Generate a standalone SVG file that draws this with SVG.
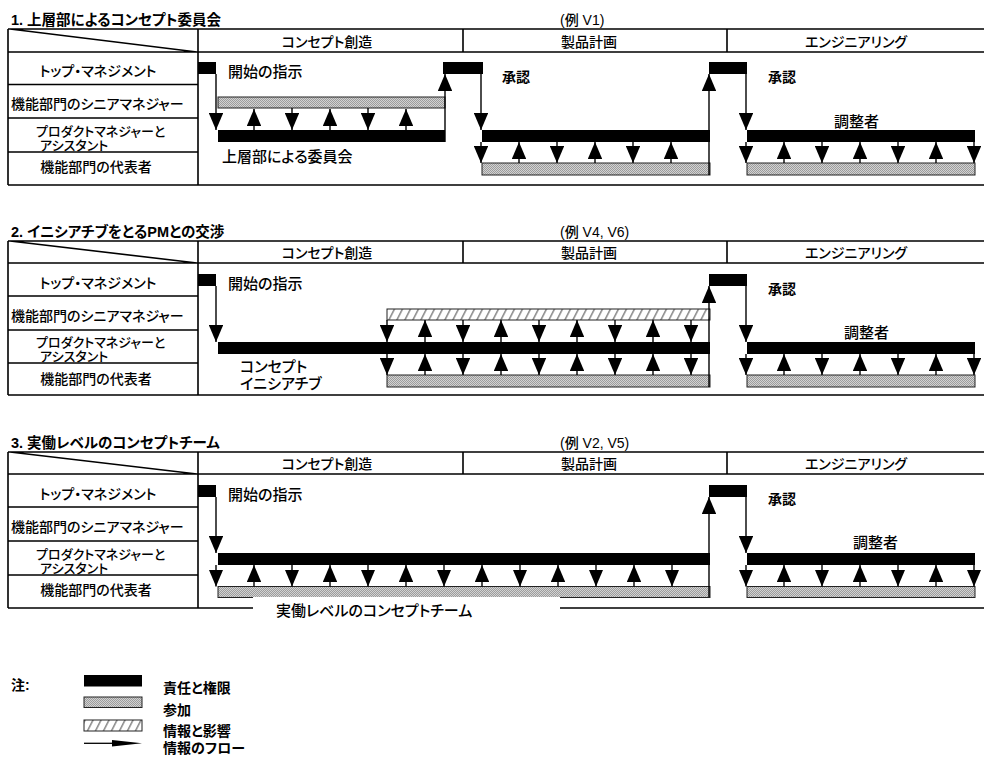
<svg xmlns="http://www.w3.org/2000/svg" width="984" height="758" viewBox="0 0 984 758">
<style>
.ln{stroke:#000;stroke-width:1.6;fill:none}
.fl{stroke:#000;stroke-width:1.4;fill:none;marker-end:url(#ah)}
.blk{fill:#000}
.gry{fill:url(#dots);stroke:#222;stroke-width:1}
.hch{fill:url(#hatch);stroke:#222;stroke-width:1}
text{font-family:"Liberation Sans","Noto Sans CJK JP",sans-serif;font-feature-settings:"palt" 1;fill:#000;font-weight:500}
.ttl{font-size:14.5px;font-weight:bold}
.ex{font-size:14px}
.hd{font-size:14px;text-anchor:middle}
.rl{font-size:14px}
.rc{font-size:14px;text-anchor:middle}
.rs{font-size:13px}
.lb{font-size:15px}
.ap{font-size:14px;font-weight:bold}
.lg{font-size:14px;font-weight:bold}
</style>
<defs>
<pattern id="dots" patternUnits="userSpaceOnUse" width="2" height="2"><rect width="2" height="2" fill="#d2d2d2"/><rect width="1" height="1" fill="#9c9c9c"/><rect x="1" y="1" width="1" height="1" fill="#9c9c9c"/></pattern>
<pattern id="hatch" patternUnits="userSpaceOnUse" width="8" height="10" patternTransform="skewX(-27)"><rect width="8" height="10" fill="#fff"/><rect x="3" width="1.7" height="10" fill="#888"/></pattern>
<marker id="ah" markerUnits="userSpaceOnUse" markerWidth="17" markerHeight="14.5" viewBox="0 0 17 14.5" refX="17" refY="7.25" orient="auto"><path d="M0,0 L17,7.25 L0,14.5 z" fill="#000"/></marker>
</defs>
<rect width="984" height="758" fill="#fff"/>

<!-- ===== Panel 1 ===== -->
<g id="panel1">
<g id="p1-title"><text class="ttl" x="11" y="25">1. 上層部によるコンセプト委員会</text></g>
<g id="p1-example"><text class="ex" x="560" y="25">(例 V1)</text></g>
<g id="p1-table">
<path class="ln" d="M8,29 H984 M8,52 H984 M8,185 H984 M8,29 V185 M198,29 V185 M463,29 V52 M727,29 V52 M8,84.5 H198 M8,118 H198 M8,152 H198 M10,29 L197,52"/>
<text class="hd" x="327" y="47">コンセプト創造</text>
<text class="hd" x="589" y="47">製品計画</text>
<text class="hd" x="856" y="47">エンジニアリング</text>
</g>
<g id="p1-row-top"><text class="rc" x="98" y="76">トップ・マネジメント</text></g>
<g id="p1-row-senior"><text class="rl" x="11" y="109">機能部門のシニアマネジャー</text></g>
<g id="p1-row-pm"><text class="rs"><tspan x="36" y="135.5">プロダクトマネジャーと</tspan><tspan x="40" y="150">アシスタント</tspan></text></g>
<g id="p1-row-rep"><text class="rc" x="96" y="172">機能部門の代表者</text></g>
<g id="p1-start"><rect class="blk" x="198" y="62" width="18" height="12"/><text class="lb" x="228" y="77">開始の指示</text></g>
<g id="p1-senior-part"><rect class="gry" x="218" y="97" width="227" height="11"/></g>
<g id="p1-committee"><rect class="blk" x="218" y="130" width="227" height="12"/><text class="lb" x="222" y="162">上層部による委員会</text></g>
<g id="p1-approve1"><rect class="blk" x="443" y="62" width="40" height="12"/><text class="ap" x="502" y="82">承認</text></g>
<g id="p1-plan-bar"><rect class="blk" x="482" y="130" width="228" height="12"/></g>
<g id="p1-plan-part"><rect class="gry" x="482" y="163" width="228" height="12"/></g>
<g id="p1-approve2"><rect class="blk" x="709" y="62" width="38" height="12"/><text class="ap" x="768" y="82">承認</text></g>
<g id="p1-coord"><rect class="blk" x="747" y="130" width="228" height="12"/><text class="lb" x="834" y="127">調整者</text></g>
<g id="p1-coord-part"><rect class="gry" x="747" y="163" width="228" height="12"/></g>
</g>

<!-- ===== Panel 2 ===== -->
<g id="panel2" transform="translate(0,212)">
<g id="p2-title"><text class="ttl" x="11" y="25">2. イニシアチブをとるPMとの交渉</text></g>
<g id="p2-example"><text class="ex" x="560" y="25">(例 V4, V6)</text></g>
<g id="p2-table">
<path class="ln" d="M8,29 H984 M8,51 H984 M8,183 H984 M8,29 V183 M198,29 V183 M463,29 V51 M727,29 V51 M8,84 H198 M8,118 H198 M8,151 H198 M10,29 L197,51"/>
<text class="hd" x="327" y="46">コンセプト創造</text>
<text class="hd" x="589" y="46">製品計画</text>
<text class="hd" x="856" y="46">エンジニアリング</text>
</g>
<g id="p2-row-top"><text class="rc" x="98" y="76">トップ・マネジメント</text></g>
<g id="p2-row-senior"><text class="rl" x="11" y="109">機能部門のシニアマネジャー</text></g>
<g id="p2-row-pm"><text class="rs"><tspan x="36" y="134.5">プロダクトマネジャーと</tspan><tspan x="40" y="149">アシスタント</tspan></text></g>
<g id="p2-row-rep"><text class="rc" x="96" y="172">機能部門の代表者</text></g>
<g id="p2-start"><rect class="blk" x="198" y="62" width="18" height="12"/><text class="lb" x="228" y="77">開始の指示</text></g>
<g id="p2-senior-info"><rect class="hch" x="387" y="97" width="323" height="11"/></g>
<g id="p2-initiative"><rect class="blk" x="218" y="130" width="492" height="12"/><text class="lb"><tspan x="240" y="160">コンセプト</tspan><tspan x="240" y="177">イニシアチブ</tspan></text></g>
<g id="p2-rep-part"><rect class="gry" x="387" y="163" width="323" height="12"/></g>
<g id="p2-approve"><rect class="blk" x="709" y="62" width="38" height="12"/><text class="ap" x="768" y="82">承認</text></g>
<g id="p2-coord"><rect class="blk" x="747" y="130" width="228" height="12"/><text class="lb" x="844" y="126">調整者</text></g>
<g id="p2-coord-part"><rect class="gry" x="747" y="163" width="228" height="12"/></g>
</g>

<!-- ===== Panel 3 ===== -->
<g id="panel3" transform="translate(0,423)">
<g id="p3-title"><text class="ttl" x="11" y="25">3. 実働レベルのコンセプトチーム</text></g>
<g id="p3-example"><text class="ex" x="560" y="25">(例 V2, V5)</text></g>
<g id="p3-table">
<path class="ln" d="M8,29 H984 M8,51 H984 M8,185 H984 M8,29 V185 M198,29 V185 M463,29 V51 M727,29 V51 M8,84 H198 M8,118 H198 M8,152 H198 M10,29 L197,51"/>
<text class="hd" x="327" y="46">コンセプト創造</text>
<text class="hd" x="589" y="46">製品計画</text>
<text class="hd" x="856" y="46">エンジニアリング</text>
</g>
<g id="p3-row-top"><text class="rc" x="98" y="76">トップ・マネジメント</text></g>
<g id="p3-row-senior"><text class="rl" x="11" y="109">機能部門のシニアマネジャー</text></g>
<g id="p3-row-pm"><text class="rs"><tspan x="36" y="135.5">プロダクトマネジャーと</tspan><tspan x="40" y="150">アシスタント</tspan></text></g>
<g id="p3-row-rep"><text class="rc" x="96" y="172">機能部門の代表者</text></g>
<g id="p3-start"><rect class="blk" x="198" y="62" width="18" height="12"/><text class="lb" x="228" y="77">開始の指示</text></g>
<g id="p3-pm-bar"><rect class="blk" x="218" y="130" width="492" height="12"/></g>
<g id="p3-team"><rect class="gry" x="218" y="163.5" width="492" height="11"/><rect x="253" y="174" width="307" height="22" fill="#fff"/><text class="lb" x="276" y="193">実働レベルのコンセプトチーム</text></g>
<g id="p3-approve"><rect class="blk" x="709" y="62" width="38" height="12"/><text class="ap" x="768" y="81">承認</text></g>
<g id="p3-coord"><rect class="blk" x="747" y="130" width="228" height="12"/><text class="lb" x="853" y="125">調整者</text></g>
<g id="p3-coord-part"><rect class="gry" x="747" y="163.5" width="228" height="11"/></g>
</g>

<!-- ===== Connectors ===== -->
<g id="connectors">
<g id="c1">
<line class="fl" x1="216" y1="74" x2="216" y2="130"/>
<line class="fl" x1="254" y1="130" x2="254" y2="109"/>
<line class="fl" x1="292" y1="108" x2="292" y2="130"/>
<line class="fl" x1="330" y1="130" x2="330" y2="109"/>
<line class="fl" x1="368" y1="108" x2="368" y2="130"/>
<line class="fl" x1="406" y1="130" x2="406" y2="109"/>
<line class="fl" x1="445" y1="142" x2="445" y2="74"/>
<line class="fl" x1="481" y1="74" x2="481" y2="130"/>
<line class="fl" x1="481" y1="142" x2="481" y2="163"/>
<line class="fl" x1="519" y1="163" x2="519" y2="142"/>
<line class="fl" x1="557" y1="142" x2="557" y2="163"/>
<line class="fl" x1="595" y1="163" x2="595" y2="142"/>
<line class="fl" x1="633" y1="142" x2="633" y2="163"/>
<line class="fl" x1="671" y1="163" x2="671" y2="142"/>
<line class="fl" x1="709" y1="175" x2="709" y2="74"/>
<line class="fl" x1="746" y1="74" x2="746" y2="130"/>
<line class="fl" x1="746" y1="142" x2="746" y2="163"/>
<line class="fl" x1="784" y1="163" x2="784" y2="142"/>
<line class="fl" x1="822" y1="142" x2="822" y2="163"/>
<line class="fl" x1="860" y1="163" x2="860" y2="142"/>
<line class="fl" x1="898" y1="142" x2="898" y2="163"/>
<line class="fl" x1="936" y1="163" x2="936" y2="142"/>
<line class="fl" x1="974" y1="142" x2="974" y2="163"/>
</g>
<g id="c2" transform="translate(0,212)">
<line class="fl" x1="216" y1="74" x2="216" y2="130"/>
<line class="fl" x1="387" y1="108" x2="387" y2="130"/>
<line class="fl" x1="425" y1="130" x2="425" y2="108"/>
<line class="fl" x1="463" y1="108" x2="463" y2="130"/>
<line class="fl" x1="501" y1="130" x2="501" y2="108"/>
<line class="fl" x1="539" y1="108" x2="539" y2="130"/>
<line class="fl" x1="577" y1="130" x2="577" y2="108"/>
<line class="fl" x1="615" y1="108" x2="615" y2="130"/>
<line class="fl" x1="653" y1="130" x2="653" y2="108"/>
<line class="fl" x1="691" y1="108" x2="691" y2="130"/>
<line class="fl" x1="387" y1="142" x2="387" y2="163"/>
<line class="fl" x1="425" y1="163" x2="425" y2="142"/>
<line class="fl" x1="463" y1="142" x2="463" y2="163"/>
<line class="fl" x1="501" y1="163" x2="501" y2="142"/>
<line class="fl" x1="539" y1="142" x2="539" y2="163"/>
<line class="fl" x1="577" y1="163" x2="577" y2="142"/>
<line class="fl" x1="615" y1="142" x2="615" y2="163"/>
<line class="fl" x1="653" y1="163" x2="653" y2="142"/>
<line class="fl" x1="691" y1="142" x2="691" y2="163"/>
<line class="fl" x1="709" y1="175" x2="709" y2="74"/>
<line class="fl" x1="746" y1="74" x2="746" y2="130"/>
<line class="fl" x1="746" y1="142" x2="746" y2="163"/>
<line class="fl" x1="784" y1="163" x2="784" y2="142"/>
<line class="fl" x1="822" y1="142" x2="822" y2="163"/>
<line class="fl" x1="860" y1="163" x2="860" y2="142"/>
<line class="fl" x1="898" y1="142" x2="898" y2="163"/>
<line class="fl" x1="936" y1="163" x2="936" y2="142"/>
<line class="fl" x1="974" y1="142" x2="974" y2="163"/>
</g>
<g id="c3" transform="translate(0,423)">
<line class="fl" x1="216" y1="74" x2="216" y2="130"/>
<line class="fl" x1="216" y1="142" x2="216" y2="163.5"/>
<line class="fl" x1="254" y1="163.5" x2="254" y2="142"/>
<line class="fl" x1="292" y1="142" x2="292" y2="163.5"/>
<line class="fl" x1="330" y1="163.5" x2="330" y2="142"/>
<line class="fl" x1="368" y1="142" x2="368" y2="163.5"/>
<line class="fl" x1="406" y1="163.5" x2="406" y2="142"/>
<line class="fl" x1="444" y1="142" x2="444" y2="163.5"/>
<line class="fl" x1="482" y1="163.5" x2="482" y2="142"/>
<line class="fl" x1="520" y1="142" x2="520" y2="163.5"/>
<line class="fl" x1="558" y1="163.5" x2="558" y2="142"/>
<line class="fl" x1="596" y1="142" x2="596" y2="163.5"/>
<line class="fl" x1="634" y1="163.5" x2="634" y2="142"/>
<line class="fl" x1="672" y1="142" x2="672" y2="163.5"/>
<line class="fl" x1="709" y1="174" x2="709" y2="74"/>
<line class="fl" x1="746" y1="74" x2="746" y2="130"/>
<line class="fl" x1="746" y1="142" x2="746" y2="163.5"/>
<line class="fl" x1="784" y1="163.5" x2="784" y2="142"/>
<line class="fl" x1="822" y1="142" x2="822" y2="163.5"/>
<line class="fl" x1="860" y1="163.5" x2="860" y2="142"/>
<line class="fl" x1="898" y1="142" x2="898" y2="163.5"/>
<line class="fl" x1="936" y1="163.5" x2="936" y2="142"/>
<line class="fl" x1="974" y1="142" x2="974" y2="163.5"/>
</g>
</g>

<!-- ===== Legend ===== -->
<g id="legend">
<text class="lg" x="11" y="690">注:</text>
<g id="legend-responsibility"><rect class="blk" x="84" y="675" width="58" height="11.5"/><text class="lg" x="163" y="693">責任と権限</text></g>
<g id="legend-participation"><rect class="gry" x="84" y="697" width="58" height="10.5"/><text class="lg" x="163" y="715">参加</text></g>
<g id="legend-info"><rect class="hch" x="84" y="720" width="58" height="11"/><text class="lg" x="163" y="736">情報と影響</text></g>
<g id="legend-flow"><line x1="84" y1="743.3" x2="115" y2="743.3" stroke="#000" stroke-width="1.3"/><path d="M112,740 L142,743.3 L112,746.6 z" fill="#000"/><text class="lg" x="163" y="753">情報のフロー</text></g>
</g>
</svg>
